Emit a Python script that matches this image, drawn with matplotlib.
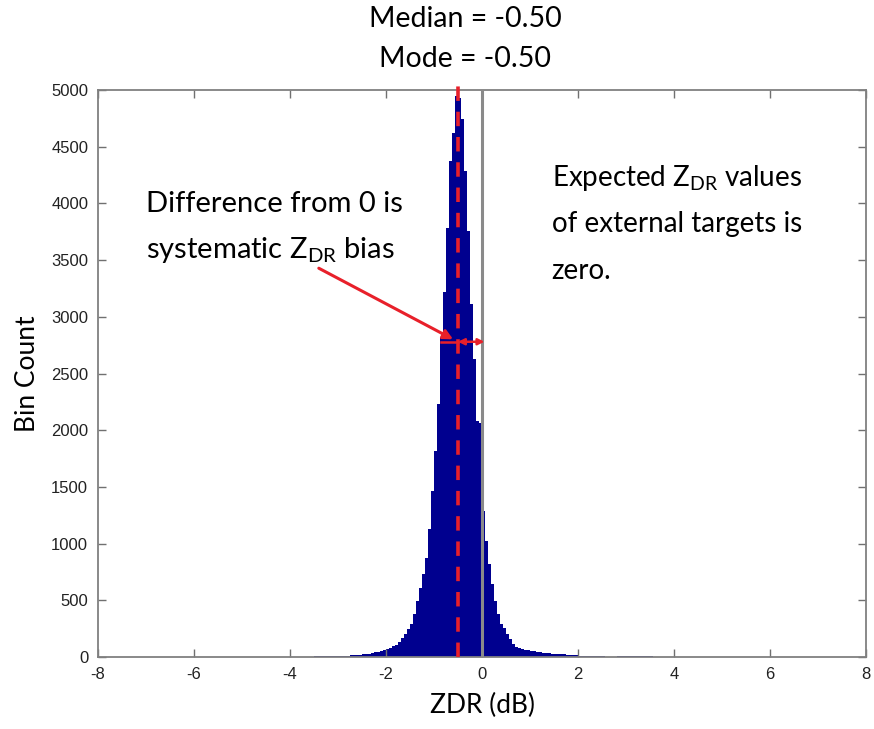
import numpy as np
import matplotlib
matplotlib.use('Agg')
import matplotlib.pyplot as plt

plt.rcParams['mathtext.fontset'] = 'custom'
plt.rcParams['mathtext.rm'] = 'Lato'
plt.rcParams['axes.unicode_minus'] = False

# Datos del histograma (bins de 1/16 dB desde -4 dB)
primer_borde = -4.0
ancho_bin = 0.0625
conteos = [
    2, 2, 3, 3, 3, 4, 4, 4, 5, 5, 6, 6, 7, 7, 8, 9, 10, 11, 12, 13, 14, 16, 18, 20,
    22, 26, 30, 35, 42, 48, 55, 62, 70, 82, 95, 110, 130, 165, 205, 250,
    291, 379, 494, 608, 732, 873, 1129, 1464, 1816, 2231, 2813, 3219, 3783, 4374,
    4623, 4950, 4930, 4744, 4285, 3757, 3113, 2628, 2085, 2060,
    1287, 1020, 820, 640, 494, 379, 291, 256, 203, 159, 115, 90, 75, 70, 65, 58,
    53, 50, 45, 42, 38, 35, 32, 30, 28, 26, 24, 22, 20, 18, 16, 15, 13, 12, 11, 10,
    9, 8, 8, 7, 7,
]
# Cola derecha (bins de 0.25 dB desde 2.8125 dB)
cola_inicio = 2.8125
cola_ancho = 0.25
cola_conteos = [6, 5, 5, 4, 4, 3, 3, 3, 2, 2, 2, 2, 1, 1, 1, 1]

mediana = -0.50
moda = -0.50

bordes = primer_borde + ancho_bin * np.arange(len(conteos) + 1)
bordes_cola = cola_inicio + cola_ancho * np.arange(len(cola_conteos) + 1)

fig = plt.figure(figsize=(8.74, 7.29), dpi=100)
ax = fig.add_axes([0.112, 0.0988, 0.879, 0.7777])

azul = '#00008f'
# un solo poligono escalonado por tramo, sin huecos entre barras
for b, c in [(bordes, conteos), (bordes_cola, cola_conteos)]:
    ax.stairs(c, b, fill=True, color=azul, linewidth=0, antialiased=False)

# Linea en cero y linea de mediana
ax.axvline(0, color='#8a8a8a', linewidth=2.2, zorder=3)
ax.plot([mediana, mediana], [0, 5120], color='#e8202a', linestyle=(0, (4, 3)),
        linewidth=2.6, zorder=4, clip_on=False)

ax.set_xlim(-8, 8)
ax.set_ylim(0, 5000)
ax.set_xticks(np.arange(-8, 9, 2))
ax.set_yticks(np.arange(0, 5001, 500))
ax.tick_params(direction='in', top=True, right=True, length=6, width=1,
               color='#707070', labelsize=12, labelcolor='#222222', pad=7)
for lbl in ax.get_xticklabels() + ax.get_yticklabels():
    lbl.set_fontfamily('Liberation Sans')
for s in ax.spines.values():
    s.set_color('#808080')
    s.set_linewidth(1.3)

ax.set_xlabel('ZDR (dB)', fontsize=19, family='Lato', labelpad=8)
ax.set_ylabel('Bin Count', fontsize=19, family='Lato', labelpad=8)

fig.text(0.532, 0.974, 'Median = %.2f' % mediana, ha='center', va='center',
         fontsize=20.5, family='Lato')
fig.text(0.532, 0.919, 'Mode = %.2f' % moda, ha='center', va='center',
         fontsize=20.5, family='Lato')

# Anotaciones
ax.text(-7.0, 3920, 'Difference from 0 is', fontsize=21, family='Lato')
ax.text(-7.0, 3520, r'systematic $\mathrm{Z_{DR}}$ bias', fontsize=21, family='Lato')
ax.text(1.45, 4150, r'Expected $\mathrm{Z_{DR}}$ values', fontsize=20, family='Lato')
ax.text(1.45, 3750, 'of external targets is', fontsize=20, family='Lato')
ax.text(1.45, 3330, 'zero.', fontsize=20, family='Lato')

ax.annotate('', xy=(-0.55, 2790), xytext=(-3.45, 3440),
            arrowprops=dict(arrowstyle='-|>', color='#e8202a', lw=2.2,
                            mutation_scale=14), zorder=5)
ax.annotate('', xy=(0.05, 2780), xytext=(-0.5, 2780),
            arrowprops=dict(arrowstyle='<|-|>', color='#e8202a', lw=1.8,
                            mutation_scale=9, shrinkA=0, shrinkB=0), zorder=5)
ax.plot([-0.85, -0.5], [2780, 2780], color='#e8202a', lw=1.8, zorder=5)

fig.savefig('out.png', dpi=100)
